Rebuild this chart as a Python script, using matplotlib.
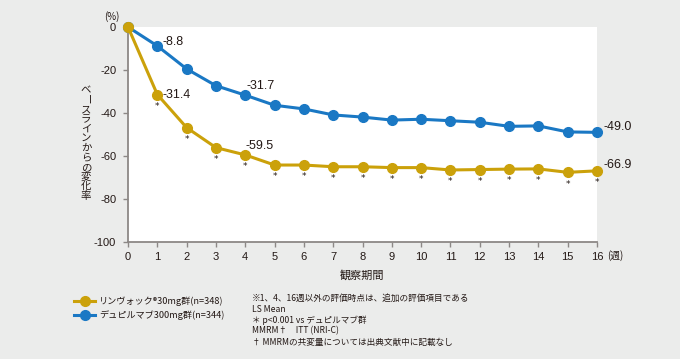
import matplotlib.pyplot as plt

plt.rcParams['font.family'] = ['Noto Sans CJK JP', 'DejaVu Sans']
plt.rcParams['axes.unicode_minus'] = False

# weeks and LS mean change (%)
weeks = list(range(17))
upa = [0, -31.4, -46.8, -56.1, -59.5, -64.2, -64.2, -65.0, -65.0, -65.4, -65.4,
       -66.5, -66.3, -66.1, -66.0, -67.6, -66.9]
dup = [0, -8.8, -19.5, -27.3, -31.7, -36.4, -38.1, -40.9, -41.9, -43.3, -42.9,
       -43.6, -44.3, -46.2, -46.0, -48.8, -49.0]
upa_name = 'リンヴォック®30mg群(n=348)'
dup_name = 'デュピルマブ300mg群(n=344)'
labeled = {1: ('-31.4', '-8.8'), 4: ('-59.5', '-31.7'), 16: ('-66.9', '-49.0')}
notes = ['※1、4、16週以外の評価時点は、追加の評価項目である',
         'LS Mean',
         '＊ p<0.001 vs デュピルマブ群',
         'MMRM†　ITT (NRI-C)',
         '† MMRMの共変量については出典文献中に記載なし']

gold = '#cba10a'
blue = '#1a78c4'
bg = '#ebeceb'
txt = '#231815'
num_font = 'Liberation Sans'

fig = plt.figure(figsize=(6.8, 3.59), dpi=100, facecolor=bg)
ax = fig.add_axes([128 / 680, 1 - 242 / 359, 469 / 680, 215 / 359])
ax.set_facecolor('white')

ax.plot(weeks, dup, color=blue, lw=2.2, marker='o', ms=7, label=dup_name, zorder=3, clip_on=False)
ax.plot(weeks, upa, color=gold, lw=2.2, marker='o', ms=7, label=upa_name, zorder=4, clip_on=False)

# significance marks below gold points
for w, v in zip(weeks[1:], upa[1:]):
    ax.annotate('*', (w, v), xytext=(0, -8.5), textcoords='offset points',
                ha='center', va='center', fontsize=6.5, color=txt, family='DejaVu Sans')

lab_kw = dict(textcoords='offset points', fontsize=9, color=txt, family=num_font,
              annotation_clip=False)
for w, (a, b) in labeled.items():
    if w == 16:
        ax.annotate(a, (w, upa[w]), xytext=(5, 4), ha='left', va='center', **lab_kw)
        ax.annotate(b, (w, dup[w]), xytext=(5, 4), ha='left', va='center', **lab_kw)
    elif w == 1:
        ax.annotate(a, (w, upa[w]), xytext=(4, 0), ha='left', va='center', **lab_kw)
        ax.annotate(b, (w, dup[w]), xytext=(4, 3), ha='left', va='center', **lab_kw)
    else:
        ax.annotate(a, (w, upa[w]), xytext=(0, 6.5), ha='left', va='center', **lab_kw)
        ax.annotate(b, (w, dup[w]), xytext=(1, 6.5), ha='left', va='center', **lab_kw)

ax.set_xlim(0, 16)
ax.set_ylim(-100, 0)
ax.set_xticks(weeks)
ax.set_yticks(range(-100, 1, 20))
for s in ['top', 'right']:
    ax.spines[s].set_visible(False)
for s in ['left', 'bottom']:
    ax.spines[s].set_color('#8c8886')
    ax.spines[s].set_linewidth(1.3)
ax.tick_params(colors='#8c8886', labelcolor=txt, labelsize=8, length=3.5, width=1)
ax.tick_params(axis='y', pad=5)
ax.tick_params(axis='x', pad=4)
for t in ax.get_xticklabels() + ax.get_yticklabels():
    t.set_family(num_font)

fig.text(112 / 680, 1 - 17 / 359, '(%)', fontsize=7, color=txt, ha='center', va='center')
fig.text(615 / 680, 1 - 256 / 359, '(週)', fontsize=7, color=txt, ha='center', va='center')
fig.text(362 / 680, 1 - 275 / 359, '観察期間', fontsize=8, color=txt, ha='center', va='center')

# vertical y label, one character at a time
ylab = 'ベースラインからの変化率'
y0 = 90
for i, ch in enumerate(ylab):
    fig.text(86 / 680, 1 - (y0 + i * 9.6) / 359, ch, fontsize=7.5, color=txt,
             ha='center', va='center', rotation=-90 if ch == 'ー' else 0)

h, l = ax.get_legend_handles_labels()
fig.legend(h[::-1], l[::-1], loc='upper left', bbox_to_anchor=(66 / 680, 1 - 288 / 359),
           frameon=False, fontsize=6.6, handlelength=2.3, labelspacing=0.5,
           handletextpad=0.4, labelcolor=txt)

for i, n in enumerate(notes):
    fig.text(252 / 680, 1 - (298 + i * 11) / 359, n, fontsize=6.2, color=txt, ha='left', va='center')

fig.savefig('out.png', dpi=100, facecolor=bg)
